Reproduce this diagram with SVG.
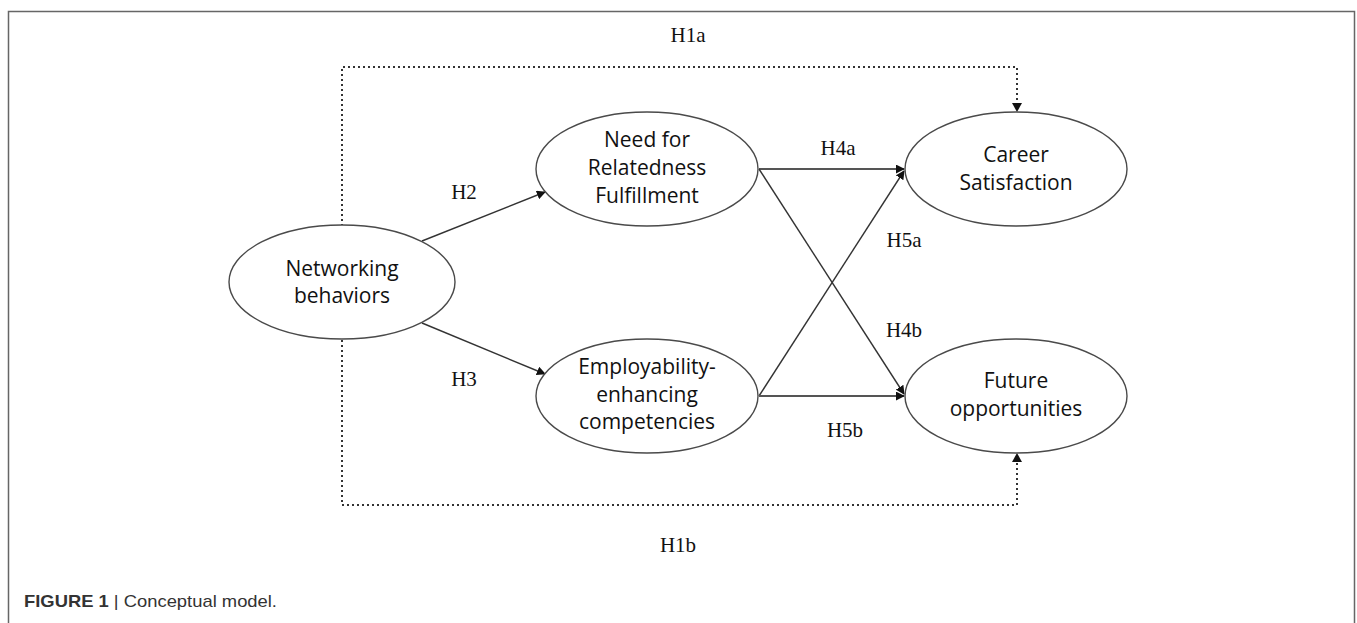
<svg xmlns="http://www.w3.org/2000/svg" width="1357" height="623" viewBox="0 0 1357 623">
<style>
.node ellipse{fill:#fff;stroke:#4a4a4a;stroke-width:1.4}
.nt{font-family:"Open Sans","Liberation Sans",sans-serif;font-size:21px;fill:#111;text-anchor:middle}
.lbl{font-family:"Liberation Serif","Times New Roman",serif;font-size:21px;fill:#111;text-anchor:middle}
.solid{stroke:#333;stroke-width:1.4;fill:none}
.thick{stroke:#555;stroke-width:2.2;fill:none}
.dot{stroke:#333;stroke-width:2;fill:none;stroke-dasharray:2 3}
</style>
<defs>
<marker id="ah" viewBox="0 0 10 10" refX="9" refY="5" markerWidth="9" markerHeight="9" markerUnits="userSpaceOnUse" orient="auto">
<path d="M0,0 L10,5 L0,10 z" fill="#111"/>
</marker>
</defs>
<rect x="0" y="0" width="1357" height="623" fill="#fff"/>
<path d="M8.5,630 V11.5 H1354.5 V630" fill="none" stroke="#666" stroke-width="1.5"/>
<g id="connectors">
<path class="dot" d="M342,226 V67 H1017 V103" />
<path d="M1012,103 L1022,103 L1017,112 z" fill="#111"/>
<path class="dot" d="M342,340 V505 H1017 V462" />
<path d="M1012,462 L1022,462 L1017,453 z" fill="#111"/>
<line class="solid" x1="422" y1="241" x2="545" y2="192" marker-end="url(#ah)"/>
<line class="solid" x1="422" y1="323" x2="545" y2="374" marker-end="url(#ah)"/>
<line class="thick" x1="759" y1="169" x2="904" y2="169" marker-end="url(#ah)"/>
<line class="solid" x1="759" y1="169" x2="904" y2="394" marker-end="url(#ah)"/>
<line class="solid" x1="759" y1="396" x2="904" y2="171" marker-end="url(#ah)"/>
<line class="thick" x1="759" y1="396" x2="904" y2="396" marker-end="url(#ah)"/>
<text class="lbl" x="688" y="42">H1a</text>
<text class="lbl" x="464" y="199">H2</text>
<text class="lbl" x="464" y="386">H3</text>
<text class="lbl" x="838" y="155">H4a</text>
<text class="lbl" x="904" y="247">H5a</text>
<text class="lbl" x="904" y="337">H4b</text>
<text class="lbl" x="845" y="437">H5b</text>
<text class="lbl" x="678" y="552">H1b</text>
</g>
<g id="networking" class="node">
<ellipse cx="342" cy="282" rx="113" ry="57"/>
<text class="nt" x="342" y="276">Networking</text>
<text class="nt" x="342" y="303">behaviors</text>
</g>
<g id="need" class="node">
<ellipse cx="647" cy="169" rx="111" ry="57"/>
<text class="nt" x="647" y="147">Need for</text>
<text class="nt" x="647" y="175">Relatedness</text>
<text class="nt" x="647" y="203">Fulfillment</text>
</g>
<g id="employability" class="node">
<ellipse cx="647" cy="396" rx="111" ry="57"/>
<text class="nt" x="647" y="374">Employability-</text>
<text class="nt" x="647" y="402">enhancing</text>
<text class="nt" x="647" y="429">competencies</text>
</g>
<g id="career" class="node">
<ellipse cx="1016" cy="169" rx="111" ry="57"/>
<text class="nt" x="1016" y="162">Career</text>
<text class="nt" x="1016" y="190">Satisfaction</text>
</g>
<g id="future" class="node">
<ellipse cx="1016" cy="396" rx="111" ry="57"/>
<text class="nt" x="1016" y="388">Future</text>
<text class="nt" x="1016" y="416">opportunities</text>
</g>
<text x="24" y="607" font-family="'Liberation Sans',Arial,sans-serif" font-size="17" fill="#333" textLength="253" lengthAdjust="spacingAndGlyphs"><tspan font-weight="bold">FIGURE 1</tspan> | Conceptual model.</text>
</svg>
